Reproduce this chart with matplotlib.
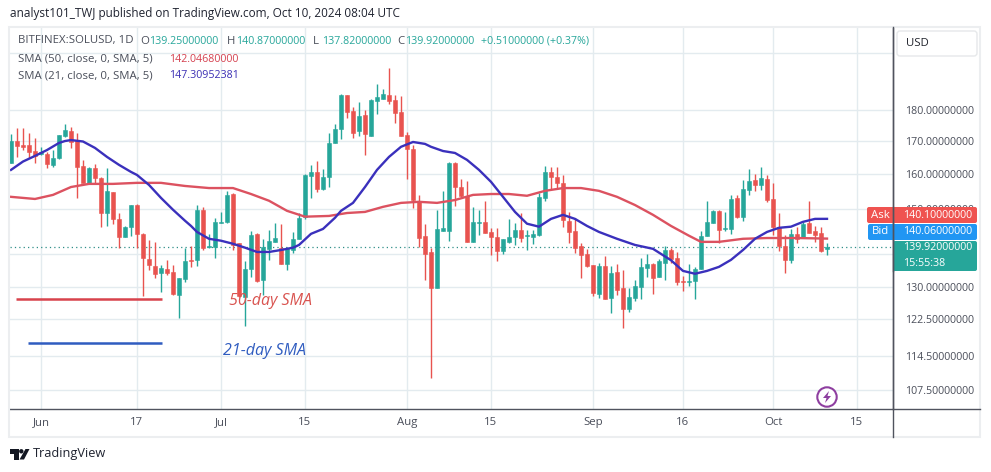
import matplotlib
matplotlib.use("Agg")
import matplotlib.pyplot as plt
import matplotlib.dates as mdates
from matplotlib.patches import Circle, FancyBboxPatch, Polygon, Rectangle
import numpy as np
import pandas as pd

plt.rcParams["font.family"] = ["Open Sans", "DejaVu Sans"]

dates = pd.date_range("2024-05-27", "2024-10-10", freq="D")

opens = [163.3, 170.0, 168.8, 168.8, 166.9, 166.0, 166.0, 162.7, 164.8, 171.6,
         173.2, 170.3, 162.4, 157.4, 161.8, 158.8, 148.9, 154.8, 147.3, 142.5,
         145.2, 151.1, 143.3, 136.9, 135.1, 133.4, 134.35, 133.6, 128.1, 131.9,
         136.6, 136.6, 149.8, 139.9, 139.9, 146.2, 146.5, 154.2, 141.0, 127.6,
         134.35, 143.3, 131.7, 139.4, 141.2, 139.7, 135.6, 139.1, 142.0, 147.9,
         159.4, 160.6, 155.65, 159.1, 169.4, 173.8, 185.05, 179.7, 173.2, 178.35,
         171.6, 183.0, 183.7, 185.05, 183.3, 179.35, 171.9, 167.5, 152.3, 142.8,
         138.6, 129.75, 144.1, 144.1, 163.3, 156.2, 153.7, 141.2, 146.2, 146.5,
         143.8, 142.5, 138.9, 141.2, 142.5, 144.35, 142.8, 142.5, 143.0, 153.1,
         160.6, 159.1, 157.4, 146.8, 144.1, 140.2, 138.1, 135.35, 128.3, 135.1,
         127.4, 133.6, 129.75, 124.8, 127.4, 130.0, 134.6, 135.6, 132.4, 135.85,
         139.1, 137.1, 131.45, 131.2, 131.45, 134.35, 142.8, 146.2, 149.5, 144.6,
         144.6, 153.1, 147.9, 155.4, 158.25, 156.8, 158.5, 152.8, 145.2, 140.2,
         136.6, 143.3, 142.2, 146.2, 144.1, 143.6, 139.25]
highs = [172.2, 174.1, 174.1, 172.5, 171.0, 168.2, 166.6, 167.2, 171.9, 175.4,
         174.5, 172.5, 164.2, 162.1, 163.0, 159.1, 161.8, 154.8, 148.9, 145.4,
         151.1, 151.4, 143.6, 141.7, 141.2, 135.35, 136.6, 135.35, 132.15, 139.7,
         140.2, 151.1, 150.6, 143.3, 147.6, 149.2, 155.1, 154.5, 141.0, 136.35,
         144.1, 143.6, 142.0, 144.35, 146.2, 146.0, 139.9, 143.8, 148.9, 160.0,
         162.7, 163.9, 161.5, 172.5, 175.4, 185.4, 185.05, 181.0, 182.65, 180.0,
         183.7, 188.8, 187.1, 194.4, 185.05, 184.7, 172.9, 168.8, 153.95, 146.0,
         139.7, 149.8, 155.1, 163.6, 163.6, 158.5, 158.0, 150.6, 149.8, 152.3,
         144.9, 144.9, 142.0, 147.3, 146.2, 148.9, 144.35, 144.35, 154.5, 162.4,
         162.1, 162.1, 159.7, 149.2, 147.6, 141.0, 139.4, 135.35, 135.85, 137.6,
         135.1, 135.6, 134.1, 129.75, 131.7, 137.1, 138.1, 135.85, 136.9, 140.2,
         139.7, 138.6, 132.65, 135.6, 134.85, 144.1, 152.3, 149.8, 149.8, 149.2,
         153.95, 153.95, 158.25, 161.5, 160.0, 162.1, 159.7, 157.4, 148.9, 143.0,
         144.6, 145.2, 146.5, 152.3, 145.4, 145.2, 140.87]
lows = [163.3, 165.1, 167.2, 164.8, 163.3, 165.7, 161.8, 162.1, 164.5, 171.3,
        167.85, 153.1, 157.4, 157.4, 157.4, 145.2, 145.4, 146.0, 139.7, 142.5,
        142.8, 139.7, 127.85, 134.1, 132.15, 128.8, 132.9, 128.1, 122.8, 131.2,
        134.85, 135.1, 139.1, 139.7, 137.1, 146.2, 146.2, 139.1, 127.6, 121.0,
        132.4, 131.2, 128.1, 136.6, 141.2, 135.6, 134.1, 138.4, 142.0, 147.3,
        153.1, 154.8, 155.4, 156.2, 169.4, 170.6, 177.4, 171.0, 171.6, 165.7,
        171.6, 178.7, 183.7, 182.0, 175.75, 171.6, 158.5, 150.3, 139.9, 131.7,
        109.8, 129.75, 144.1, 141.5, 150.9, 153.4, 141.2, 141.2, 143.0, 143.6,
        137.9, 136.35, 138.1, 141.0, 140.4, 141.2, 139.1, 140.7, 142.8, 152.3,
        155.65, 155.9, 145.2, 141.0, 138.4, 132.15, 134.85, 127.85, 127.4, 127.15,
        123.9, 128.1, 120.55, 124.15, 126.7, 127.15, 132.4, 128.3, 132.4, 131.7,
        135.85, 130.5, 129.0, 130.25, 127.15, 134.35, 142.8, 146.2, 141.0, 144.1,
        143.3, 147.6, 146.8, 153.95, 155.1, 155.4, 152.0, 143.0, 138.9, 133.4,
        135.85, 141.0, 142.2, 143.6, 141.2, 138.6, 137.82]
closes = [170.0, 168.5, 168.2, 166.6, 165.4, 166.6, 163.0, 164.8, 171.9, 173.5,
          169.7, 162.1, 157.4, 161.8, 158.8, 148.9, 155.1, 147.3, 142.5, 145.2,
          151.1, 143.3, 137.1, 135.35, 133.15, 134.6, 133.4, 128.3, 132.15, 136.35,
          136.35, 149.8, 139.7, 140.2, 146.5, 146.5, 153.95, 140.4, 127.85, 134.35,
          143.0, 131.45, 139.9, 141.5, 142.2, 135.6, 139.7, 142.0, 147.6, 159.7,
          160.6, 155.65, 159.1, 169.4, 173.8, 185.05, 179.35, 172.5, 178.0, 172.2,
          183.34, 184.4, 185.4, 183.0, 179.0, 171.6, 167.5, 152.5, 142.2, 138.1,
          129.75, 144.6, 144.9, 163.3, 156.2, 153.7, 141.2, 146.5, 146.5, 143.6,
          142.5, 138.9, 142.0, 142.5, 144.35, 142.2, 143.0, 143.3, 153.4, 160.6,
          159.1, 157.4, 147.0, 143.8, 139.7, 137.9, 135.1, 128.6, 135.1, 127.15,
          133.4, 129.3, 124.8, 127.6, 130.25, 134.85, 135.6, 132.15, 136.35, 139.1,
          136.9, 131.2, 131.2, 131.45, 134.35, 142.8, 146.5, 149.5, 144.35, 144.9,
          152.8, 147.9, 155.65, 158.0, 156.8, 158.8, 152.5, 145.2, 140.2, 136.6,
          143.3, 142.0, 146.0, 143.6, 143.0, 138.9, 139.92]

sma21_days = [-5, -3, -1, 1, 3, 4, 5, 7, 9, 11, 13, 15, 16, 18, 20, 22, 24, 25, 26, 28,
              30, 32, 34, 36, 38, 40, 42, 43, 45, 47, 49, 50, 52, 54, 56, 58, 60, 62, 64, 65,
              67, 69, 71, 73, 75, 77, 79, 81, 83, 85, 87, 89, 91, 93, 96, 99, 102, 105, 107, 109,
              111, 113, 115, 117, 119, 121, 123, 125, 127, 129, 131]
sma21_vals = [161.2, 163.7, 165.4, 167.2, 169.4, 170.0, 170.3, 169.85, 167.85, 165.1,
              162.7, 160.6, 159.7, 156.8, 153.1, 149.8, 146.8, 145.4, 143.8, 142.0,
              141.5, 140.7, 139.7, 138.6, 138.6, 139.1, 139.7, 140.4, 143.3, 144.6,
              147.6, 149.5, 151.7, 156.2, 161.2, 165.1, 168.2, 169.7, 169.1, 168.2,
              166.9, 166.3, 164.2, 161.2, 157.7, 153.4, 149.2, 146.0, 145.2, 147.3,
              148.4, 147.3, 145.4, 143.8, 142.0, 140.4, 139.4, 136.5, 133.85, 133.15,
              133.85, 134.85, 136.6, 139.1, 142.0, 143.8, 144.9, 145.2, 146.5, 147.3, 147.31]
sma50_days = [-5, -1, 2, 5, 8, 12, 16, 20, 24, 28, 32, 35, 38, 41, 44, 48, 51, 54, 57, 60,
              63, 66, 69, 72, 75, 78, 81, 84, 87, 90, 93, 96, 99, 102, 105, 108, 110, 113, 117, 121,
              126, 131]
sma50_vals = [153.4, 152.8, 153.95, 156.2, 157.1, 157.1, 157.4, 157.4, 156.5, 155.9,
              155.9, 154.2, 152.3, 149.5, 147.9, 148.1, 148.9, 149.2, 150.6, 151.7,
              152.0, 151.7, 152.5, 153.95, 154.2, 154.2, 153.7, 155.1, 155.9, 155.9,
              155.1, 153.4, 151.1, 148.4, 145.4, 142.8, 141.2, 141.2, 142.0, 142.2,
              142.2, 142.05]

price_ticks = [107.5, 114.5, 122.5, 130, 138, 150, 160, 170, 180, 200]
hidden_labels = [138, 200]  # sit under the last price tag and the USD button
time_tick_dates = ["2024-06-01", "2024-06-17", "2024-07-01", "2024-07-15", "2024-08-01",
                   "2024-08-15", "2024-09-01", "2024-09-16", "2024-10-01", "2024-10-15"]
time_tick_labels = ["Jun", "17", "Jul", "15", "Aug", "15", "Sep", "16", "Oct", "15"]

GREEN = "#26a69a"
RED = "#e8534f"
BLUE_SMA = "#3a30bc"
RED_SMA = "#dc5260"
GRID = "#e3ebef"
TEXT = "#4a4e5a"
NUM_SIZE = 7.7
WORD_SIZE = 8.2

W, H = 991, 472
fig = plt.figure(figsize=(W / 100, H / 100), dpi=100, facecolor="white")

ax = fig.add_axes([10 / W, (H - 408.5) / H, 883 / W, 381.5 / H])
ax.set_yscale("log")
x = mdates.date2num(dates)
up = np.array(closes) >= np.array(opens)
colors = [GREEN if u else RED for u in up]

ax.vlines(x, lows, highs, colors=colors, linewidth=1, zorder=3)
bottoms = np.minimum(opens, closes)
ax.bar(x, np.abs(np.array(closes) - np.array(opens)), bottom=bottoms, width=0.78,
       color=colors, edgecolor=colors, linewidth=0.4, zorder=4)

jun1 = mdates.date2num(pd.Timestamp("2024-06-01"))
ax.plot(jun1 + np.array(sma50_days), sma50_vals, color=RED_SMA, linewidth=1.7, zorder=5)
ax.plot(jun1 + np.array(sma21_days), sma21_vals, color=BLUE_SMA, linewidth=1.7, zorder=5)

# last price line
ax.axhline(closes[-1], color="#2f8f88", linewidth=0.9, linestyle=(0, (1, 2.5)), zorder=2)

# hand drawn marks from the author
ax.hlines(127.15, jun1 - 4.2, jun1 + 20.2, color="#d8434c", linewidth=1.8, zorder=6)
ax.hlines(117.3, jun1 - 2.2, jun1 + 20.2, color="#2f5cc0", linewidth=1.8, zorder=6)
ax.text(jun1 + 31.3, 126.7, "50-day SMA", color="#d9534f", style="italic", fontsize=11.5,
        va="center", zorder=7)
ax.text(jun1 + 30.3, 115.4, "21-day SMA", color="#2f5cc0", style="italic", fontsize=11.5,
        va="center", zorder=7)

ax.set_ylim(103.9, 209.7)
ax.set_xlim(jun1 - 31 / 6, jun1 + 852 / 6)
ax.yaxis.tick_right()
ax.set_yticks(price_ticks)
ax.set_yticklabels(["" if t in hidden_labels else f"{t:.8f}" for t in price_ticks])
ax.minorticks_off()
ax.set_xticks(mdates.date2num(pd.to_datetime(time_tick_dates)))
ax.set_xticklabels(time_tick_labels)
ax.tick_params(axis="both", length=0, labelcolor=TEXT)
ax.tick_params(axis="y", pad=9, labelsize=NUM_SIZE)
ax.tick_params(axis="x", pad=6, labelsize=WORD_SIZE)
ax.grid(True, color=GRID, linewidth=1, zorder=0)
ax.set_axisbelow(True)
for side in ["top", "left"]:
    ax.spines[side].set_visible(False)
for side in ["right", "bottom"]:
    ax.spines[side].set_color("#50535e")
    ax.spines[side].set_linewidth(1)

# page furniture, in pixels
ui = fig.add_axes([0, 0, 1, 1], zorder=10)
ui.set_xlim(0, W)
ui.set_ylim(H, 0)
ui.axis("off")
ui.patch.set_alpha(0)

ui.add_patch(Rectangle((9, 27), 971, 410, fill=False, edgecolor="#eceef0", linewidth=1.5))
ui.plot([893, 893], [27, 437], color="#50535e", linewidth=1)
ui.plot([893, 980], [409, 409], color="#50535e", linewidth=1)

ui.text(10, 14, "analyst101_TWJ published on TradingView.com, Oct 10, 2024 08:04 UTC",
        fontsize=8.45, color="#1f2330", va="center")

ui.text(18, 41, "BITFINEX:SOLUSD, 1D", fontsize=WORD_SIZE, color=TEXT, va="center")
for lx, vx, letter, val in [(140, 149, "O", "139.25000000"), (227, 236, "H", "140.87000000"),
                            (313, 322, "L", "137.82000000"), (397, 405, "C", "139.92000000")]:
    ui.text(lx, 41, letter, fontsize=WORD_SIZE, color=TEXT, va="center")
    ui.text(vx, 41, val, fontsize=NUM_SIZE, color=GREEN, va="center")
ui.text(481, 41, "+0.51000000 (+0.37%)", fontsize=NUM_SIZE, color=GREEN, va="center")
ui.text(18, 59, "SMA (50, close, 0, SMA, 5)", fontsize=WORD_SIZE, color=TEXT, va="center")
ui.text(169, 59, "142.04680000", fontsize=NUM_SIZE, color="#d5404e", va="center")
ui.text(18, 76, "SMA (21, close, 0, SMA, 5)", fontsize=WORD_SIZE, color=TEXT, va="center")
ui.text(169, 76, "147.30952381", fontsize=NUM_SIZE, color="#3a2eb4", va="center")

ui.add_patch(FancyBboxPatch((897, 31), 80, 25, boxstyle="round,pad=0,rounding_size=3",
                            facecolor="white", edgecolor="#e6e8ea", linewidth=1))
ui.text(906, 44, "USD", fontsize=WORD_SIZE, color="#20232c", va="center")

ui.add_patch(FancyBboxPatch((867, 207), 110, 16, boxstyle="round,pad=0,rounding_size=2",
                            facecolor="#ef5350", edgecolor="none"))
ui.add_patch(FancyBboxPatch((868, 224), 109, 16, boxstyle="round,pad=0,rounding_size=2",
                            facecolor="#2196f3", edgecolor="none"))
ui.add_patch(FancyBboxPatch((893, 241), 84, 30, boxstyle="round,pad=0,rounding_size=2",
                            facecolor=GREEN, edgecolor="none"))
ui.plot([893, 893], [207, 271], color="#50535e", linewidth=1)
ui.text(871, 215, "Ask", fontsize=WORD_SIZE, color="white", va="center")
ui.text(872, 232, "Bid", fontsize=WORD_SIZE, color="white", va="center")
ui.text(903, 215, "140.10000000", fontsize=NUM_SIZE, color="white", va="center")
ui.text(903, 232, "140.06000000", fontsize=NUM_SIZE, color="white", va="center")
ui.text(903, 248, "139.92000000", fontsize=NUM_SIZE, color="white", va="center")
ui.text(903, 263, "15:55:38", fontsize=NUM_SIZE, color="white", va="center")

ui.add_patch(Circle((827, 397), 9.7, facecolor="white", edgecolor="#8e3ea0", linewidth=1.5))
ui.add_patch(Polygon([(829, 391), (823, 398), (826.5, 398), (825, 403), (831, 396), (827.5, 396)],
                     facecolor="#8e3ea0", edgecolor="none"))

ui.add_patch(Polygon([(10, 449), (18.5, 449), (18.5, 459.5), (14, 459.5), (14, 453.5), (10, 453.5)],
                     facecolor="#131722", edgecolor="none"))
ui.add_patch(Circle((21.3, 451.3), 2.2, facecolor="#131722", edgecolor="none"))
ui.add_patch(Polygon([(25.5, 449), (29.5, 449), (24, 459.5), (19.5, 459.5)],
                     facecolor="#131722", edgecolor="none"))
ui.text(33, 454, "TradingView", fontsize=9.2, color="#1f2330", va="center")

fig.savefig("out.png", dpi=100)
